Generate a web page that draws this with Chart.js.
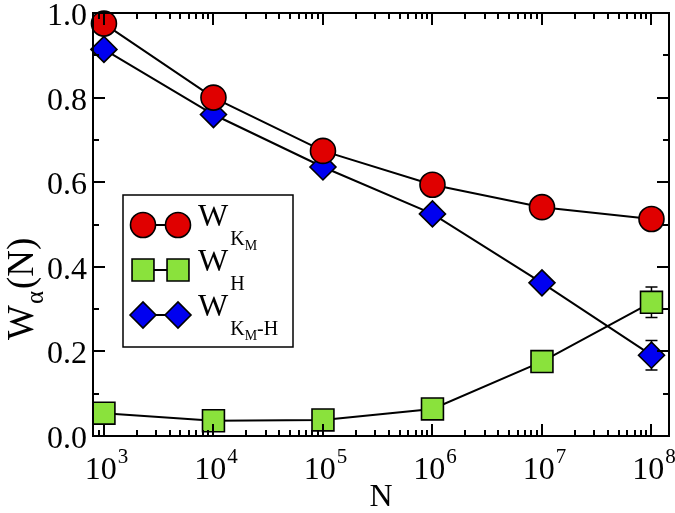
<!DOCTYPE html>
<html><head><meta charset="utf-8">
<script src="https://cdn.jsdelivr.net/npm/chart.js@4/dist/chart.umd.min.js"></script>
<style>html,body{margin:0;padding:0;background:#fff}#wrap{width:675px;height:513px;position:relative}</style>
</head><body><div id="wrap"><canvas id="c" width="675" height="513"></canvas></div>
<script>
// ---- data ----
const N_values = [1e3, 1e4, 1e5, 1e6, 1e7, 1e8];
const W_KM   = [0.975, 0.800, 0.674, 0.594, 0.541, 0.513];
const W_H    = [0.054, 0.036, 0.038, 0.064, 0.176, 0.316];
const W_KMH  = [0.914, 0.760, 0.636, 0.525, 0.362, 0.191];
const W_KM_err  = [0, 0, 0, 0, 0, 0];
const W_H_err   = [0, 0, 0, 0, 0, 0.036];
const W_KMH_err = [0, 0, 0, 0, 0, 0.035];
const xTickExponents = [3, 4, 5, 6, 7, 8];
const yTickValues = [0, 0.2, 0.4, 0.6, 0.8, 1.0];
const yTickLabels = ['0.0', '0.2', '0.4', '0.6', '0.8', '1.0'];
// legend text: [text, level] (0 normal, 1 subscript, 2 sub-subscript)
const legendKM  = [['W', 0], ['K', 1], ['M', 2]];
const legendH   = [['W', 0], ['H', 1]];
const legendKMH = [['W', 0], ['K', 1], ['M', 2], ['-H', 1]];
const xTitle = 'N';
const yTitle = [['W', 0], ['\u03b1', 1], ['(N)', 0]];

const SERIF = '"Liberation Serif", "DejaVu Serif", serif';
const RED = '#e00000', GREEN = '#8ae23c', BLUE = '#0000f0';

function pts(ys) { return N_values.map((x, i) => ({x: x, y: ys[i]})); }

const datasets = [
  {label: 'WKM', data: pts(W_KM), err: W_KM_err, legend: legendKM,
   pointStyle: 'circle', pointRadius: 12.5, pointBackgroundColor: RED},
  {label: 'WH', data: pts(W_H), err: W_H_err, legend: legendH,
   pointStyle: 'rect', pointRadius: 15.5, pointBackgroundColor: GREEN},
  {label: 'WKMH', data: pts(W_KMH), err: W_KMH_err, legend: legendKMH,
   pointStyle: 'rectRot', pointRadius: 13, pointBackgroundColor: BLUE}
].map(d => Object.assign({
  borderColor: '#000', borderWidth: 2, pointBorderColor: '#000', pointBorderWidth: 1.6,
  pointHoverRadius: d.pointRadius, tension: 0, clip: false, fill: false
}, d));

function drawMarker(ctx, ds, x, y) {
  Chart.helpers.drawPoint(ctx, {pointStyle: ds.pointStyle, radius: ds.pointRadius, rotation: 0, borderWidth: ds.pointBorderWidth}, x, y);
}

function drawParts(ctx, parts, x, y) {
  const sizes = [32, 20, 14], dy = [0, 19, 24];
  let cx = x;
  let lastLevel = 0;
  parts.forEach(([t, lv]) => {
    ctx.font = sizes[lv] + 'px ' + SERIF;
    if (lv > 0 && lastLevel === 0) cx += 2;
    ctx.fillText(t, cx, y + dy[lv]);
    cx += ctx.measureText(t).width;
    lastLevel = lv;
  });
}

const axesPlugin = {
  id: 'axesPlugin',
  beforeDatasetsDraw(chart) {
    const ctx = chart.ctx, xs = chart.scales.x, ys = chart.scales.y;
    ctx.save();
    ctx.strokeStyle = '#000'; ctx.lineWidth = 1.5;
    chart.data.datasets.forEach(ds => {
      ds.data.forEach((p, i) => {
        const e = ds.err[i];
        if (!e) return;
        const px = xs.getPixelForValue(p.x);
        const y1 = ys.getPixelForValue(p.y + e), y2 = ys.getPixelForValue(p.y - e);
        ctx.beginPath();
        ctx.moveTo(px, y1); ctx.lineTo(px, y2);
        ctx.moveTo(px - 6, y1); ctx.lineTo(px + 6, y1);
        ctx.moveTo(px - 6, y2); ctx.lineTo(px + 6, y2);
        ctx.stroke();
      });
    });
    ctx.restore();
  },
  afterDatasetsDraw(chart) {
    const ctx = chart.ctx, xs = chart.scales.x, ys = chart.scales.y;
    const a = chart.chartArea;
    ctx.save();
    ctx.strokeStyle = '#000'; ctx.lineWidth = 2;
    ctx.strokeRect(a.left, a.top, a.right - a.left, a.bottom - a.top);
    // x ticks (major decades, minor 2..9)
    ctx.beginPath();
    for (let d = 2; d <= 8; d++) {
      for (let m = 1; m <= 9; m++) {
        const v = m * Math.pow(10, d);
        if (v < xs.min || v > xs.max) continue;
        const px = Math.round(xs.getPixelForValue(v));
        const len = m === 1 ? 12 : 6;
        ctx.moveTo(px, a.bottom); ctx.lineTo(px, a.bottom - len);
        ctx.moveTo(px, a.top); ctx.lineTo(px, a.top + len);
      }
    }
    // y ticks (major 0.2, minor 0.1)
    for (let k = 0; k <= 10; k++) {
      const py = Math.round(ys.getPixelForValue(k / 10));
      const len = k % 2 === 0 ? 12 : 6;
      ctx.moveTo(a.left, py); ctx.lineTo(a.left + len, py);
      ctx.moveTo(a.right, py); ctx.lineTo(a.right - len, py);
    }
    ctx.stroke();

    ctx.fillStyle = '#000';
    ctx.textBaseline = 'alphabetic';
    // y tick labels
    ctx.font = '32px ' + SERIF;
    ctx.textAlign = 'right';
    yTickValues.forEach((v, i) => {
      ctx.fillText(yTickLabels[i], a.left - 6, ys.getPixelForValue(v) + 12);
    });
    // x tick labels 10^n
    ctx.textAlign = 'left';
    xTickExponents.forEach(e => {
      const px = xs.getPixelForValue(Math.pow(10, e));
      ctx.font = '32px ' + SERIF;
      const w1 = ctx.measureText('10').width;
      ctx.font = '21px ' + SERIF;
      const w2 = ctx.measureText(String(e)).width;
      const x0 = px - (w1 + w2) / 2 + 2;
      ctx.font = '32px ' + SERIF;
      ctx.fillText('10', x0, a.bottom + 43);
      ctx.font = '21px ' + SERIF;
      ctx.fillText(String(e), x0 + w1 + 1, a.bottom + 27);
    });
    // x title
    ctx.font = '32px ' + SERIF;
    ctx.textAlign = 'center';
    ctx.fillText(xTitle, (a.left + a.right) / 2, a.bottom + 70);
    // y title (rotated)
    ctx.save();
    ctx.translate(33, 340);
    ctx.rotate(-Math.PI / 2);
    ctx.textAlign = 'left';
    let cx = 0;
    yTitle.forEach(([t, lv]) => {
      ctx.font = (lv ? 25 : 37) + 'px ' + SERIF;
      if (lv) cx += 1;
      ctx.fillText(t, cx, lv ? 10 : 0);
      cx += ctx.measureText(t).width + (lv ? 2 : 0);
    });
    ctx.restore();

    // legend box
    const lx = 123, ly = 195, lw = 170, lh = 152;
    ctx.fillStyle = '#fff';
    ctx.fillRect(lx, ly, lw, lh);
    ctx.lineWidth = 1.5;
    ctx.strokeRect(lx, ly, lw, lh);
    chart.data.datasets.forEach((ds, i) => {
      const my = 225 + i * 45;
      ctx.strokeStyle = '#000'; ctx.lineWidth = 2;
      ctx.beginPath(); ctx.moveTo(143, my); ctx.lineTo(178, my); ctx.stroke();
      ctx.fillStyle = ds.pointBackgroundColor; ctx.strokeStyle = '#000'; ctx.lineWidth = ds.pointBorderWidth;
      drawMarker(ctx, ds, 143, my);
      drawMarker(ctx, ds, 178, my);
      ctx.fillStyle = '#000';
      ctx.textAlign = 'left';
      drawParts(ctx, ds.legend, 198, my + 1);
    });
    ctx.restore();
  }
};

new Chart(document.getElementById('c'), {
  type: 'line',
  data: {datasets: datasets},
  options: {
    responsive: false, animation: false, events: [],
    layout: {autoPadding: false, padding: {left: 93, top: 13, right: 6, bottom: 77}},
    plugins: {legend: {display: false}, tooltip: {enabled: false}},
    scales: {
      x: {type: 'logarithmic', min: Math.pow(10, 2.9), max: Math.pow(10, 8.16), display: false},
      y: {type: 'linear', min: 0, max: 1, display: false}
    }
  },
  plugins: [axesPlugin]
});
</script>
</body></html>
